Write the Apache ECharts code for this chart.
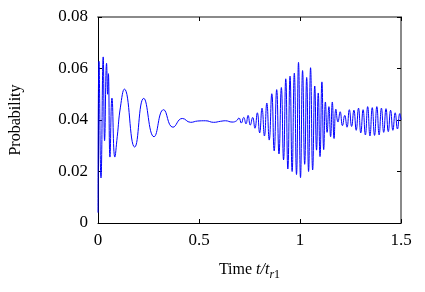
<!DOCTYPE html>
<html>
<head>
<meta charset="utf-8">
<script src="https://cdn.jsdelivr.net/npm/echarts@6/dist/echarts.min.js"></script>
<style>html,body{margin:0;padding:0;background:#fff;}#c{width:425px;height:292px;}</style>
</head>
<body>
<div id="c"></div>
<script>
// time t/t_r1 values and probabilities
var times = [0.000, 0.0049, 0.0148, 0.0257, 0.0326, 0.0424, 0.0479, 0.0513, 0.0592, 0.0691, 0.0834, 0.0952, 0.1110,
  0.1307, 0.1815, 0.2264, 0.2773, 0.3246, 0.3710, 0.4174, 0.4588, 0.4933, 0.5328, 0.5723, 0.6068, 0.6315, 0.6635, 0.6858,
  0.6981, 0.7094, 0.7213, 0.7326, 0.7430, 0.7538, 0.7657, 0.7770, 0.7888, 0.8002, 0.8120, 0.8239, 0.8357, 0.8476,
  0.8604, 0.8722, 0.8846, 0.8959, 0.9077, 0.9186, 0.9295, 0.9398, 0.9507, 0.9610, 0.9719, 0.9827, 0.9926, 1.0025,
  1.0128, 1.0232, 1.0331, 1.0424, 1.0523, 1.0627, 1.0730, 1.0819, 1.0903, 1.0991, 1.1085, 1.1174, 1.1258, 1.1342,
  1.1431, 1.1515, 1.1599, 1.1687, 1.1776, 1.1880, 1.1988, 1.2101, 1.2215, 1.2328, 1.2442, 1.2555, 1.2669, 1.2783,
  1.2896, 1.3010, 1.3123, 1.3236, 1.3350, 1.3463, 1.3577, 1.3690, 1.3804, 1.3917, 1.4031, 1.4144, 1.4258, 1.4371,
  1.4485, 1.4598, 1.4712, 1.4825, 1.4939, 1.5000];
var probs = [0.0040, 0.0628, 0.0175, 0.0645, 0.0320, 0.0620, 0.0500, 0.0580, 0.0256, 0.0485, 0.0256, 0.0335, 0.0450,
  0.0520, 0.0295, 0.0484, 0.0335, 0.0440, 0.0372, 0.0406, 0.0391, 0.0396, 0.0397, 0.0391, 0.0395, 0.0397, 0.0392, 0.0397,
  0.0408, 0.0388, 0.0410, 0.0385, 0.0418, 0.0380, 0.0410, 0.0368, 0.0428, 0.0350, 0.0446, 0.0338, 0.0466, 0.0322,
  0.0502, 0.0280, 0.0518, 0.0268, 0.0526, 0.0245, 0.0560, 0.0210, 0.0570, 0.0200, 0.0582, 0.0188, 0.0624, 0.0176,
  0.0592, 0.0228, 0.0565, 0.0200, 0.0603, 0.0206, 0.0532, 0.0283, 0.0505, 0.0258, 0.0548, 0.0285, 0.0470, 0.0352,
  0.0452, 0.0335, 0.0470, 0.0328, 0.0442, 0.0392, 0.0432, 0.0378, 0.0418, 0.0372, 0.0440, 0.0375, 0.0438, 0.0360,
  0.0446, 0.0350, 0.0440, 0.0342, 0.0452, 0.0338, 0.0448, 0.0340, 0.0452, 0.0342, 0.0446, 0.0352, 0.0444, 0.0355,
  0.0438, 0.0360, 0.0428, 0.0365, 0.0425, 0.0400];
var xTickLabels = ['0', '0.5', '1', '1.5'];
var yTickLabels = ['0', '0.02', '0.04', '0.06', '0.08'];

var seriesData = times.map(function (t, i) { return [t, probs[i]]; });
var font = "'Liberation Serif','Times New Roman',serif";
var chart = echarts.init(document.getElementById('c'), null, {renderer: 'canvas'});
chart.setOption({
  animation: false,
  grid: {left: 97, right: 24, top: 17, bottom: 69, containLabel: false},
  xAxis: [{
    type: 'value', min: 0, max: 1.5, interval: 0.5, position: 'bottom',
    name: '{n|Time }{i|t}{i|/}{i|t}{s|r}{s1|1}', nameLocation: 'middle', nameGap: 36,
    nameTextStyle: {
      color: '#000', fontFamily: font, fontSize: 16,
      rich: {
        n: {fontFamily: font, fontSize: 16, color: '#000'},
        i: {fontFamily: font, fontSize: 16, fontStyle: 'italic', color: '#000'},
        s: {fontFamily: font, fontSize: 12, fontStyle: 'italic', color: '#000', padding: [10, 0, 0, 0]},
        s1: {fontFamily: font, fontSize: 12, color: '#000', padding: [10, 0, 0, 0]}
      }
    },
    axisLine: {show: true, onZero: false, lineStyle: {color: '#000', width: 1}},
    axisTick: {show: true, inside: true, length: 4, lineStyle: {color: '#000'}},
    axisLabel: {color: '#000', fontFamily: font, fontSize: 17, margin: 9,
      formatter: function (v) { return xTickLabels[Math.round(v / 0.5)]; }},
    splitLine: {show: false}
  }, {
    type: 'value', min: 0, max: 1.5, interval: 0.5, position: 'top',
    axisLine: {show: true, onZero: false, lineStyle: {color: '#8a8a8a', width: 2}},
    axisTick: {show: true, inside: true, length: 4, lineStyle: {color: '#000'}},
    axisLabel: {show: false}, splitLine: {show: false}
  }],
  yAxis: [{
    type: 'value', min: 0, max: 0.08, interval: 0.02, position: 'left',
    name: 'Probability', nameLocation: 'middle', nameGap: 74, nameRotate: 90,
    nameTextStyle: {color: '#000', fontFamily: font, fontSize: 16},
    axisLine: {show: true, onZero: false, lineStyle: {color: '#000', width: 1}},
    axisTick: {show: true, inside: true, length: 4, lineStyle: {color: '#000'}},
    axisLabel: {color: '#000', fontFamily: font, fontSize: 17, margin: 10,
      formatter: function (v) { return yTickLabels[Math.round(v / 0.02)]; }},
    splitLine: {show: false}
  }, {
    type: 'value', min: 0, max: 0.08, interval: 0.02, position: 'right',
    axisLine: {show: true, onZero: false, lineStyle: {color: '#8a8a8a', width: 2}},
    axisTick: {show: true, inside: true, length: 4, lineStyle: {color: '#000'}},
    axisLabel: {show: false}, splitLine: {show: false}
  }],
  series: [{
    type: 'line', xAxisIndex: 0, yAxisIndex: 0, data: seriesData,
    showSymbol: false, smooth: 0.5, clip: true,
    lineStyle: {color: '#0000ff', width: 1}
  }]
});
</script>
</body>
</html>
